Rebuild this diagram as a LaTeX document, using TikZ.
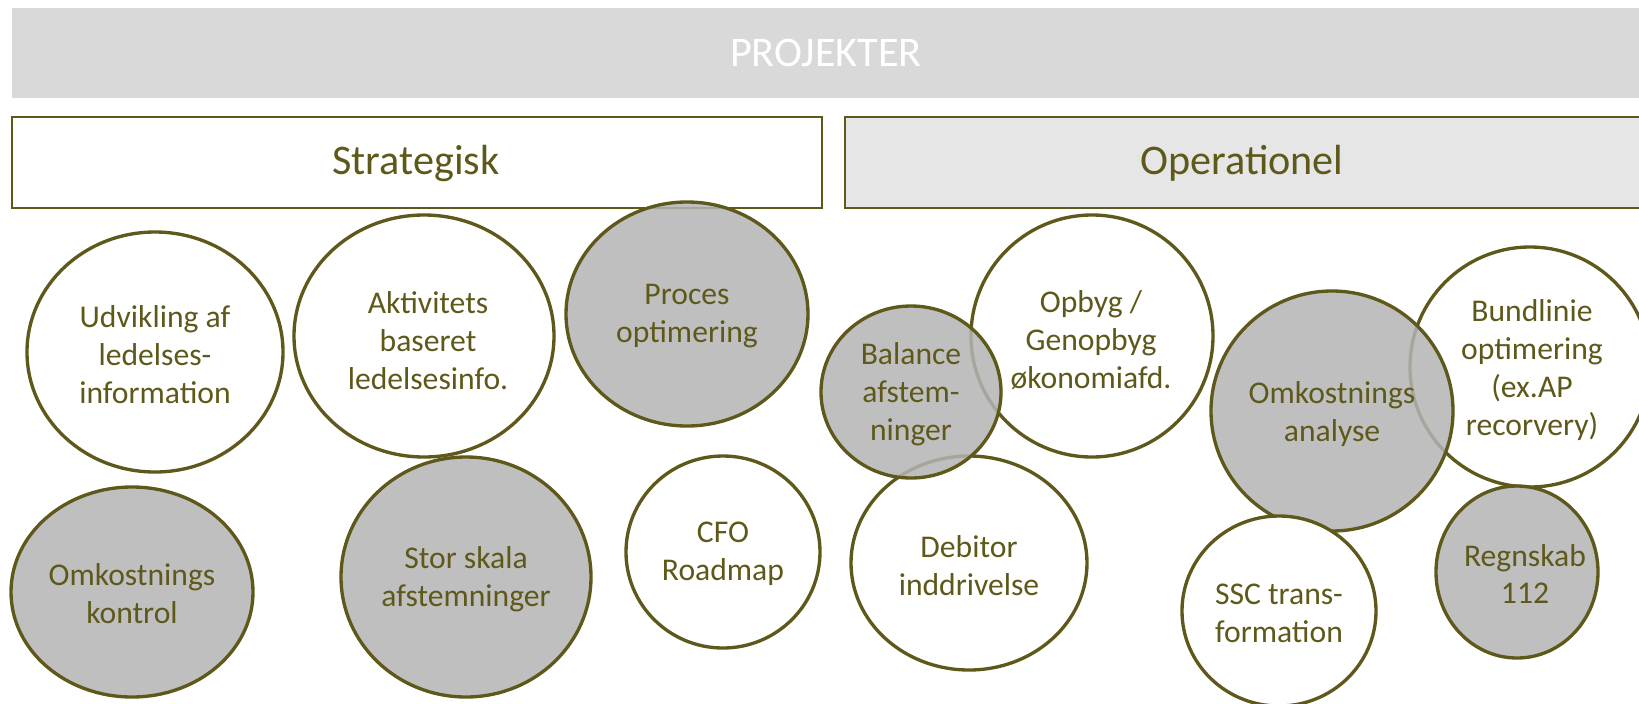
\documentclass[tikz,border=0pt]{standalone}
\usepackage{fontspec}
\setmainfont{Carlito}
\usepackage{tikz}

\definecolor{olivedark}{RGB}{94,89,26}
\definecolor{headgray}{RGB}{217,217,217}
\definecolor{opgray}{RGB}{230,230,230}
\definecolor{bubblegray}{RGB}{180,180,180}

\tikzset{
  boxline/.style={draw=olivedark, line width=0.7pt},
  headtext/.style={text=olivedark, font=\fontsize{12}{14}\selectfont},
  plainbubble/.style={draw=olivedark, line width=0.95pt, fill=white},
  greybubble/.style={draw=olivedark, line width=0.95pt, fill=bubblegray, fill opacity=0.85},
  bubbletext/.style={text=olivedark, align=center, inner sep=0pt, font=\fontsize{9}{10.8}\selectfont}
}

\begin{document}
\begin{tikzpicture}

\useasboundingbox (0,0) rectangle (16.39,7.03);

\fill[headgray] (0.12,6.05) rectangle (16.39,6.95);
\node (projekter) at (8.26,6.50) [text=white, font=\fontsize{12}{14}\selectfont] {PROJEKTER};

\draw[boxline, fill=white] (0.12,4.95) rectangle (8.22,5.86);
\node (strategisk) at (4.16,5.40) [headtext] {Strategisk};

\fill[opgray] (8.45,4.95) rectangle (16.45,5.86);
\draw[boxline] (8.45,4.95) rectangle (16.45,5.86);
\node (operationel) at (12.42,5.40) [headtext] {Operationel};

% strategisk
\draw[plainbubble] (1.55,3.51) ellipse [x radius=1.28, y radius=1.20];
\node (udvikling) at (1.55,3.48) [bubbletext] {Udvikling af\\ledelses-\\information};

\draw[plainbubble] (4.24,3.67) ellipse [x radius=1.30, y radius=1.21];
\node (aktivitet) at (4.28,3.62) [bubbletext] {Aktivitets\\baseret\\ledelsesinfo.};

\draw[greybubble] (6.87,3.89) ellipse [x radius=1.21, y radius=1.12];
\node (proces) at (6.87,3.87) [bubbletext] {Proces\\optimering};

\draw[greybubble] (1.32,1.11) ellipse [x radius=1.21, y radius=1.05];
\node (omkkontrol) at (1.32,1.09) [bubbletext] {Omkostnings\\kontrol};

\draw[greybubble] (4.66,1.26) ellipse [x radius=1.25, y radius=1.20];
\node (storskala) at (4.66,1.24) [bubbletext] {Stor skala\\afstemninger};

\draw[plainbubble] (7.23,1.51) ellipse [x radius=0.97, y radius=0.96];
\node (cfo) at (7.23,1.49) [bubbletext] {CFO\\Roadmap};

% operationel
\draw[plainbubble] (10.92,3.67) ellipse [x radius=1.21, y radius=1.21];
\node (opbyg) at (10.91,3.63) [bubbletext] {Opbyg /\\Genopbyg\\økonomiafd.};

\draw[plainbubble] (9.69,1.40) ellipse [x radius=1.18, y radius=1.07];
\node (debitor) at (9.69,1.37) [bubbletext] {Debitor\\inddrivelse};

\draw[greybubble] (9.11,3.11) ellipse [x radius=0.90, y radius=0.86];
\node (balance) at (9.11,3.09) [bubbletext] {Balance\\afstem-\\ninger};

\draw[plainbubble] (15.30,3.36) ellipse [x radius=1.20, y radius=1.20];
\node (bundlinie) at (15.32,3.33) [bubbletext] {Bundlinie\\optimering\\(ex.AP\\recorvery)};

\draw[greybubble] (13.32,2.92) ellipse [x radius=1.21, y radius=1.20];
\node (omkanalyse) at (13.32,2.89) [bubbletext] {Omkostnings\\analyse};

\draw[plainbubble] (12.79,0.92) ellipse [x radius=0.97, y radius=0.95];
\node (ssc) at (12.79,0.90) [bubbletext] {SSC trans-\\formation};

\draw[greybubble] (15.17,1.31) ellipse [x radius=0.81, y radius=0.86];
\node (regnskab) at (15.25,1.29) [bubbletext] {Regnskab\\112};

\end{tikzpicture}
\end{document}
